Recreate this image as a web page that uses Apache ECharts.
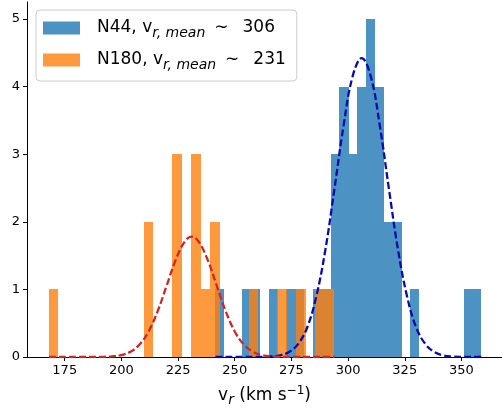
<!DOCTYPE html>
<html><head><meta charset="utf-8">
<script src="https://cdn.jsdelivr.net/npm/echarts@6/dist/echarts.min.js"></script>
<style>html,body{margin:0;padding:0;background:#fff}#c{width:502px;height:415px}</style>
</head><body><div id="c"></div>
<script>
const xTicks = [175, 200, 225, 250, 275, 300, 325, 350];
const yTicks = [0, 1, 2, 3, 4, 5];

const n44Edges = [241.5,245.4,249.3,253.2,257.1,261.1,265.0,268.9,272.8,276.7,280.6,284.5,288.4,292.3,296.2,300.2,304.1,308.0,311.9,315.8,319.7,323.6,327.5,331.4,335.3,339.3,343.2,347.1,351.0,354.9,358.8];
const n44Counts = [1,0,0,1,1,0,1,0,1,1,0,1,1,3,4,3,4,5,4,2,2,0,1,0,0,0,0,0,1,1];
const n180Edges = [167.9,172.1,176.3,180.5,184.7,188.9,193.1,197.3,201.5,205.7,209.9,214.1,218.3,222.5,226.7,230.9,235.1,239.3,243.5,247.7,251.9,256.1,260.3,264.5,268.7,272.9,277.1,281.3,285.5,289.7,293.9];
const n180Counts = [1,0,0,0,0,0,0,0,0,0,2,0,0,3,0,3,1,2,0,0,0,1,0,0,1,0,1,0,1,1];

const n44Mean = 306;
const n180Mean = 231;

const n44CurveX = [241.5,246,250,254,258,262,266,270,274,278,282,286,290,294,298,302,306,310,314,318,322,326,330,334,338,342,346,350,354,358.8];
const n44CurveY = [0,0,0,0,0,0.002,0.008,0.025,0.075,0.195,0.44,0.90,1.59,2.49,3.42,4.15,4.42,4.15,3.42,2.49,1.59,0.90,0.44,0.195,0.075,0.025,0.008,0.002,0,0];
const n180CurveX = [168,172,176,180,184,188,192,196,200,204,208,212,216,220,224,228,231,234,238,242,246,250,254,258,262,266,270,274,278,282,286,290,294];
const n180CurveY = [0,0,0,0,0,0.001,0.003,0.009,0.029,0.078,0.184,0.378,0.678,1.06,1.44,1.71,1.78,1.71,1.44,1.06,0.678,0.378,0.184,0.078,0.029,0.009,0.003,0.001,0,0,0,0,0];

const FONT = 'DejaVu Sans';
const BLUE = '#4c92c3';
const ORANGE = 'rgba(255,127,14,0.8)';

function histData(edges, counts) {
  const out = [];
  for (let i = 0; i < counts.length; i++) {
    if (counts[i] > 0) out.push([edges[i], edges[i + 1], counts[i]]);
  }
  return out;
}
function zip(xs, ys) { return xs.map((x, i) => [x, ys[i]]); }

function histRender(color) {
  return function (params, api) {
    const p0 = api.coord([api.value(0), 0]);
    const p1 = api.coord([api.value(1), api.value(2)]);
    const x0 = Math.round(p0[0]), x1 = Math.round(p1[0]);
    const y0 = Math.round(p0[1]), y1 = Math.round(p1[1]);
    return {
      type: 'rect',
      shape: { x: x0, y: y1, width: x1 - x0, height: y0 - y1 },
      style: { fill: color }
    };
  };
}

const subStyle = { fontFamily: FONT, fontSize: 14, fontStyle: 'italic', lineHeight: 14, verticalAlign: 'bottom', color: '#000' };

const chart = echarts.init(document.getElementById('c'), null, { renderer: 'canvas' });
chart.setOption({
  animation: false,
  backgroundColor: '#fff',
  textStyle: { fontFamily: FONT },
  grid: { left: 27, right: 0, top: 2, bottom: 58 },
  legend: {
    data: ['N44', 'N180'],
    orient: 'vertical',
    left: 36, top: 10,
    icon: 'rect',
    itemWidth: 37, itemHeight: 13, itemGap: 8,
    padding: [6, 11, 9, 7],
    backgroundColor: 'rgba(255,255,255,0.8)',
    borderColor: '#cccccc', borderWidth: 1, borderRadius: 4,
    selectedMode: false,
    formatter: function (name) {
      return name === 'N44'
        ? 'N44, v{sub|r, mean}{sim|\u223c}' + n44Mean
        : 'N180, v{sub|r, mean}{sim|\u223c}' + n180Mean;
    },
    textStyle: {
      fontFamily: FONT, fontSize: 17, color: '#000', lineHeight: 24,
      padding: [0, 0, 0, 12],
      rich: {
        sub: subStyle,
        sim: { fontFamily: FONT, fontSize: 17, color: '#000', lineHeight: 24, padding: [0, 14, 0, 9] }
      }
    }
  },
  xAxis: [{
    type: 'value', min: 158.35, max: 367.9,
    axisLine: { show: true, onZero: false, lineStyle: { color: '#000', width: 1 } },
    axisTick: { show: true, customValues: xTicks, length: 4, lineStyle: { color: '#000' } },
    axisLabel: { customValues: xTicks, fontFamily: FONT, fontSize: 13, color: '#000', margin: 7 },
    splitLine: { show: false },
    name: 'v{sub|r} (km s{sup|\u22121})',
    nameLocation: 'middle', nameGap: 28,
    nameTextStyle: {
      fontFamily: FONT, fontSize: 17, color: '#000', lineHeight: 22,
      rich: {
        sub: subStyle,
        sup: { fontFamily: FONT, fontSize: 12, lineHeight: 12, verticalAlign: 'top', color: '#000' }
      }
    }
  }, {
    type: 'value', position: 'top', min: 158.35, max: 367.9,
    axisLine: { show: true, lineStyle: { color: '#000', width: 1 } },
    axisTick: { show: false }, axisLabel: { show: false }, splitLine: { show: false }
  }],
  yAxis: {
    type: 'value', min: 0, max: 5.25,
    axisLine: { show: true, onZero: false, lineStyle: { color: '#000', width: 1 } },
    axisTick: { show: true, customValues: yTicks, length: 4, lineStyle: { color: '#000' } },
    axisLabel: { customValues: yTicks, fontFamily: FONT, fontSize: 13, color: '#000', margin: 7 },
    splitLine: { show: false }
  },
  series: [
    {
      name: 'N44', type: 'custom', renderItem: histRender(BLUE),
      itemStyle: { color: BLUE },
      encode: { x: [0, 1], y: 2 },
      data: histData(n44Edges, n44Counts), z: 2
    },
    {
      name: 'N180', type: 'custom', renderItem: histRender(ORANGE),
      itemStyle: { color: ORANGE },
      encode: { x: [0, 1], y: 2 },
      data: histData(n180Edges, n180Counts), z: 3
    },
    {
      name: 'N44 fit', type: 'line', data: zip(n44CurveX, n44CurveY),
      showSymbol: false, smooth: 0.4, z: 5,
      lineStyle: { color: '#0a0ab4', width: 2.3, type: [7, 3] }
    },
    {
      name: 'N180 fit', type: 'line', data: zip(n180CurveX, n180CurveY),
      showSymbol: false, smooth: 0.4, z: 5,
      lineStyle: { color: '#d42424', width: 2.3, type: [7, 3] }
    }
  ]
});
</script>
</body></html>
